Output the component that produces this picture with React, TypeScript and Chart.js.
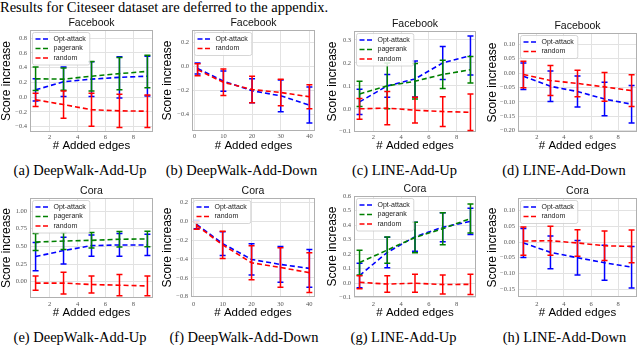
import React, { useEffect, useRef } from "react";
import { Chart, registerables } from "chart.js";

Chart.register(...registerables);

const headline = "Results for Citeseer dataset are deferred to the appendix.";

const xUp = [1, 3, 5, 7, 9];
const xDown = [1, 10, 20, 30, 40];
const xTicksUp = [2, 4, 6, 8];
const xTicksDown = [0, 10, 20, 30, 40];
const names3 = ["Opt-attack", "pagerank", "random"];
const names2 = ["Opt-attack", "random"];
const colors3 = ["#0000ff", "#008000", "#ff0000"];
const colors2 = ["#0000ff", "#ff0000"];

// (a) DeepWalk-Add-Up, Facebook
const aOpt = [0.1, 0.21, 0.245, 0.27, 0.285];
const aOptErr = [0.15, 0.2, 0.235, 0.28, 0.27];
const aPr = [0.25, 0.245, 0.285, 0.32, 0.35];
const aPrErr = [0.16, 0.15, 0.2, 0.22, 0.22];
const aRnd = [-0.035, -0.1, -0.17, -0.185, -0.19];
const aRndErr = [0.09, 0.185, 0.225, 0.225, 0.22];
const aYTicks = [-0.4, -0.2, 0, 0.2, 0.4, 0.6, 0.8];

// (b) DeepWalk-Add-Down, Facebook
const bOpt = [-0.015, -0.12, -0.2, -0.243, -0.32];
const bOptErr = [0.045, 0.084, 0.1, 0.133, 0.15];
const bRnd = [-0.025, -0.13, -0.19, -0.215, -0.25];
const bRndErr = [0.05, 0.11, 0.11, 0.11, 0.1];
const bYTicks = [-0.4, -0.2, 0, 0.2];

// (c) LINE-Add-Up, Facebook
const cOpt = [0.03, 0.1, 0.13, 0.2, 0.232];
const cOptErr = [0.055, 0.05, 0.078, 0.072, 0.085];
const cPr = [0.065, 0.1, 0.12, 0.15, 0.17];
const cPrErr = [0.055, 0.1, 0.077, 0.062, 0.058];
const cRnd = [0.0, 0.003, -0.006, -0.012, -0.015];
const cRndErr = [0.045, 0.072, 0.056, 0.065, 0.08];
const cYTicks = [-0.1, 0, 0.1, 0.2, 0.3];

// (d) LINE-Add-Down, Facebook
const dOpt = [-0.011, -0.046, -0.064, -0.09, -0.108];
const dOptErr = [0.046, 0.053, 0.054, 0.058, 0.065];
const dRnd = [-0.005, -0.026, -0.036, -0.048, -0.061];
const dRndErr = [0.046, 0.052, 0.046, 0.05, 0.055];
const dYTicks = [-0.2, -0.15, -0.1, -0.05, 0, 0.05, 0.1];

// (e) DeepWalk-Add-Up, Cora
const eOpt = [0.355, 0.44, 0.51, 0.52, 0.52];
const eOptErr = [0.2, 0.19, 0.15, 0.16, 0.15];
const ePr = [0.56, 0.575, 0.585, 0.6, 0.605];
const ePrErr = [0.12, 0.12, 0.11, 0.11, 0.11];
const eRnd = [-0.02, -0.02, -0.04, -0.05, -0.06];
const eRndErr = [0.1, 0.155, 0.12, 0.15, 0.14];
const eYTicks = [0, 0.25, 0.5, 0.75, 1.0];

// (f) DeepWalk-Add-Down, Cora
const fOpt = [-0.035, -0.237, -0.405, -0.458, -0.5];
const fOptErr = [0.045, 0.125, 0.165, 0.19, 0.2];
const fRnd = [-0.045, -0.25, -0.44, -0.49, -0.545];
const fRndErr = [0.04, 0.145, 0.18, 0.21, 0.21];
const fYTicks = [-0.8, -0.6, -0.4, -0.2, 0, 0.2];

// (g) LINE-Add-Up, Cora
const gOpt = [0.053, 0.212, 0.32, 0.385, 0.425];
const gOptErr = [0.085, 0.105, 0.1, 0.1, 0.09];
const gPr = [0.142, 0.228, 0.315, 0.375, 0.445];
const gPrErr = [0.085, 0.09, 0.105, 0.11, 0.1];
const gRnd = [0.006, -0.006, 0.0, -0.009, -0.008];
const gRndErr = [0.045, 0.057, 0.062, 0.065, 0.07];
const gYTicks = [-0.1, 0, 0.1, 0.2, 0.3, 0.4, 0.5, 0.6];

// (h) LINE-Add-Down, Cora
const hOpt = [-0.003, -0.033, -0.05, -0.066, -0.08];
const hOptErr = [0.046, 0.052, 0.055, 0.056, 0.066];
const hRnd = [0.003, 0.004, -0.003, -0.012, -0.014];
const hRndErr = [0.045, 0.046, 0.042, 0.047, 0.052];
const hYTicks = [-0.15, -0.1, -0.05, 0, 0.05, 0.1];

const SANS = "'Liberation Sans', Arial, sans-serif";
const SERIF = "'Liberation Serif', 'Times New Roman', serif";

type PanelDef = {
  title: string;
  caption: string;
  xs: number[];
  xTicks: number[];
  xRange: number[];
  yRange: number[];
  yTicks: number[];
  dec: number;
  series: number[][];
  errors: number[][];
  names: string[];
  colors: string[];
  rect: number[];
  yw: number;
  xh: number;
  rp: number;
  xtp: number;
  capX: number;
  capY: number;
};

const panels: PanelDef[] = [
  { title: "Facebook", caption: "(a) DeepWalk-Add-Up", xs: xUp, xTicks: xTicksUp, xRange: [0.6, 9.4], yRange: [-0.472, 0.912], yTicks: aYTicks, dec: 1,
    series: [aOpt, aPr, aRnd], errors: [aOptErr, aPrErr, aRndErr], names: names3, colors: colors3,
    rect: [30, 30, 153, 132], yw: 29, xh: 20, rp: 4, xtp: 1, capX: 80, capY: 163 },
  { title: "Facebook", caption: "(b) DeepWalk-Add-Down", xs: xDown, xTicks: xTicksDown, xRange: [-0.95, 41.95], yRange: [-0.536, 0.306], yTicks: bYTicks, dec: 1,
    series: [bOpt, bRnd], errors: [bOptErr, bRndErr], names: names2, colors: colors2,
    rect: [192, 30, 315, 131], yw: 30, xh: 21, rp: 4, xtp: 1, capX: 241.5, capY: 163 },
  { title: "Facebook", caption: "(c) LINE-Add-Up", xs: xUp, xTicks: xTicksUp, xRange: [0.6, 9.4], yRange: [-0.101, 0.339], yTicks: cYTicks, dec: 1,
    series: [cOpt, cPr, cRnd], errors: [cOptErr, cPrErr, cRndErr], names: names3, colors: colors3,
    rect: [354, 31, 476, 132], yw: 27, xh: 20, rp: 4, xtp: 1, capX: 404.5, capY: 163 },
  { title: "Facebook", caption: "(d) LINE-Add-Down", xs: xUp, xTicks: xTicksUp, xRange: [0.6, 9.4], yRange: [-0.2045, 0.139], yTicks: dYTicks, dec: 2,
    series: [dOpt, dRnd], errors: [dOptErr, dRndErr], names: names2, colors: colors2,
    rect: [518, 33, 637, 132], yw: 31, xh: 20, rp: 2, xtp: 1, capX: 564, capY: 163 },
  { title: "Cora", caption: "(e) DeepWalk-Add-Up", xs: xUp, xTicks: xTicksUp, xRange: [0.6, 9.4], yRange: [-0.231, 1.184], yTicks: eYTicks, dec: 2,
    series: [eOpt, ePr, eRnd], errors: [eOptErr, ePrErr, eRndErr], names: names3, colors: colors3,
    rect: [30, 198, 153, 298], yw: 29, xh: 21, rp: 4, xtp: 2, capX: 80, capY: 330 },
  { title: "Cora", caption: "(f) DeepWalk-Add-Down", xs: xDown, xTicks: xTicksDown, xRange: [-0.95, 41.95], yRange: [-0.803, 0.246], yTicks: fYTicks, dec: 1,
    series: [fOpt, fRnd], errors: [fOptErr, fRndErr], names: names2, colors: colors2,
    rect: [191, 198, 315, 297], yw: 29, xh: 22, rp: 4, xtp: 3, capX: 244, capY: 330 },
  { title: "Cora", caption: "(g) LINE-Add-Up", xs: xUp, xTicks: xTicksUp, xRange: [0.6, 9.4], yRange: [-0.095, 0.6], yTicks: gYTicks, dec: 1,
    series: [gOpt, gPr, gRnd], errors: [gOptErr, gPrErr, gRndErr], names: names3, colors: colors3,
    rect: [354, 196, 476, 297], yw: 27, xh: 22, rp: 4, xtp: 3, capX: 403.5, capY: 330 },
  { title: "Cora", caption: "(h) LINE-Add-Down", xs: xUp, xTicks: xTicksUp, xRange: [0.6, 9.4], yRange: [-0.175, 0.14], yTicks: hYTicks, dec: 2,
    series: [hOpt, hRnd], errors: [hOptErr, hRndErr], names: names2, colors: colors2,
    rect: [518, 198, 637, 297], yw: 31, xh: 22, rp: 2, xtp: 3, capX: 564.5, capY: 330 },
];

const fmt = (v: number, dec: number) => {
  const s = Math.abs(v) < 1e-9 ? (0).toFixed(dec) : v.toFixed(dec);
  return s.replace("-", "\u2212");
};

const errorBarPlugin = {
  id: "errbars",
  beforeDatasetDraw(chart: any, args: any) {
    const ds = chart.data.datasets[args.index];
    const errs: number[] = ds.errors;
    if (!errs) return;
    const { ctx } = chart;
    const xs = chart.scales.x;
    const ys = chart.scales.y;
    ctx.save();
    ctx.strokeStyle = ds.borderColor;
    ctx.lineWidth = 1.5;
    ctx.setLineDash([]);
    ds.data.forEach((pt: any, i: number) => {
      const px = xs.getPixelForValue(pt.x);
      const top = ys.getPixelForValue(pt.y + errs[i]);
      const bot = ys.getPixelForValue(pt.y - errs[i]);
      ctx.beginPath();
      ctx.moveTo(px, top);
      ctx.lineTo(px, bot);
      ctx.moveTo(px - 3, top);
      ctx.lineTo(px + 3, top);
      ctx.moveTo(px - 3, bot);
      ctx.lineTo(px + 3, bot);
      ctx.stroke();
    });
    ctx.restore();
  },
};

const framePlugin = {
  id: "frame",
  beforeDatasetsDraw(chart: any) {
    const { ctx, chartArea: a } = chart;
    ctx.save();
    ctx.strokeStyle = "#b0b0b0";
    ctx.lineWidth = 1;
    ctx.strokeRect(a.left + 0.5, a.top + 0.5, a.width - 1, a.height - 1);
    ctx.restore();
  },
};

const legendPlugin = {
  id: "seriesLegend",
  afterDraw(chart: any) {
    const { ctx, chartArea: a } = chart;
    const ds = chart.data.datasets;
    ctx.save();
    ctx.font = "7px " + SANS;
    const maxW = Math.max(...ds.map((d: any) => ctx.measureText(d.label).width));
    const bx = a.left + 2.5;
    const by = a.top + 2.5;
    const bw = 21 + maxW + 4;
    const bh = ds.length * 9.5 + 4;
    const r = 2;
    ctx.beginPath();
    ctx.moveTo(bx + r, by);
    ctx.lineTo(bx + bw - r, by);
    ctx.quadraticCurveTo(bx + bw, by, bx + bw, by + r);
    ctx.lineTo(bx + bw, by + bh - r);
    ctx.quadraticCurveTo(bx + bw, by + bh, bx + bw - r, by + bh);
    ctx.lineTo(bx + r, by + bh);
    ctx.quadraticCurveTo(bx, by + bh, bx, by + bh - r);
    ctx.lineTo(bx, by + r);
    ctx.quadraticCurveTo(bx, by, bx + r, by);
    ctx.closePath();
    ctx.fillStyle = "rgba(255,255,255,0.85)";
    ctx.fill();
    ctx.strokeStyle = "#cccccc";
    ctx.lineWidth = 0.8;
    ctx.stroke();
    ds.forEach((d: any, i: number) => {
      const y = by + 6.5 + i * 9.5;
      ctx.setLineDash([5, 2.5]);
      ctx.strokeStyle = d.borderColor;
      ctx.lineWidth = 1.6;
      ctx.beginPath();
      ctx.moveTo(bx + 3, y);
      ctx.lineTo(bx + 17, y);
      ctx.stroke();
      ctx.setLineDash([]);
      ctx.fillStyle = "#222222";
      ctx.textBaseline = "middle";
      ctx.textAlign = "left";
      ctx.fillText(d.label, bx + 21, y);
    });
    ctx.restore();
  },
};

function Panel({ p }: { p: PanelDef }) {
  const ref = useRef<HTMLCanvasElement>(null);
  const [l, t, r, b] = p.rect;
  const w = r - l + p.yw + p.rp;
  const h = 13 + (b - t) + p.xh;

  useEffect(() => {
    const tickFont = { family: SERIF, size: 6.5 };
    const zeroPad = (s: any) => {
      s.paddingLeft = 0;
      s.paddingRight = 0;
      s.paddingTop = 0;
      s.paddingBottom = 0;
    };
    const chart = new Chart(ref.current as HTMLCanvasElement, {
      type: "line",
      data: {
        datasets: p.series.map((ys, i) => ({
          label: p.names[i],
          data: ys.map((y, j) => ({ x: p.xs[j], y })),
          errors: p.errors[i],
          borderColor: p.colors[i],
          backgroundColor: p.colors[i],
          borderWidth: 1.6,
          borderDash: [5, 3],
          pointRadius: 0,
          fill: false,
          tension: 0,
          order: p.series.length - i,
        })) as any,
      },
      options: {
        animation: false,
        responsive: false,
        devicePixelRatio: 1,
        layout: { padding: { left: 0, right: p.rp, top: 0, bottom: 0 } },
        plugins: {
          legend: { display: false },
          tooltip: { enabled: false },
          title: {
            display: true,
            text: p.title,
            fullSize: false,
            color: "#111111",
            font: { family: SANS, size: 10.5, weight: "normal", lineHeight: "12px" } as any,
            padding: { top: 0, bottom: 1 },
          },
        },
        scales: {
          x: {
            type: "linear",
            min: p.xRange[0],
            max: p.xRange[1],
            grid: { color: "#e2e2e2", lineWidth: 1, drawTicks: false },
            border: { display: false },
            ticks: {
              autoSkip: false,
              padding: p.xtp,
              font: tickFont,
              color: "#555555",
              callback: (v: any) => String(v),
            },
            afterBuildTicks: (s: any) => {
              s.ticks = p.xTicks.map((v) => ({ value: v }));
            },
            afterFit: (s: any) => {
              s.height = p.xh;
              zeroPad(s);
            },
            title: {
              display: true,
              text: "# Added edges",
              color: "#000000",
              font: { family: SANS, size: 11.5, lineHeight: "12px" } as any,
              padding: 0,
            },
          },
          y: {
            type: "linear",
            min: p.yRange[0],
            max: p.yRange[1],
            grid: { color: "#e2e2e2", lineWidth: 1, drawTicks: false },
            border: { display: false },
            ticks: {
              autoSkip: false,
              padding: 3,
              font: tickFont,
              color: "#555555",
              callback: (v: any) => fmt(Number(v), p.dec),
            },
            afterBuildTicks: (s: any) => {
              s.ticks = p.yTicks.map((v) => ({ value: v }));
            },
            afterFit: (s: any) => {
              s.width = p.yw;
              zeroPad(s);
            },
            title: {
              display: true,
              text: "Score increase",
              color: "#000000",
              font: { family: SANS, size: 12, lineHeight: "12px" } as any,
              padding: 0,
            },
          },
        },
      } as any,
      plugins: [framePlugin, errorBarPlugin, legendPlugin],
    });
    return () => chart.destroy();
  }, []);

  return (
    <canvas
      ref={ref}
      width={w}
      height={h}
      style={{ position: "absolute", left: l - p.yw, top: t - 13, width: w, height: h, display: "block" }}
    />
  );
}

export default function App() {
  return (
    <div style={{ position: "fixed", left: 0, top: 0, width: 640, height: 345, background: "#ffffff", overflow: "hidden" }}>
      <div
        style={{
          position: "absolute",
          left: 0,
          top: 0,
          fontFamily: SERIF,
          fontSize: 14.5,
          lineHeight: "14.5px",
          whiteSpace: "nowrap",
          color: "#000",
        }}
      >
        {headline}
      </div>
      {panels.map((p, i) => (
        <React.Fragment key={i}>
          <Panel p={p} />
          <div
            style={{
              position: "absolute",
              left: p.capX - 100,
              top: p.capY,
              width: 200,
              textAlign: "center",
              fontFamily: SERIF,
              fontSize: 14.5,
              lineHeight: "14.5px",
              whiteSpace: "nowrap",
              color: "#000",
            }}
          >
            {p.caption}
          </div>
        </React.Fragment>
      ))}
    </div>
  );
}
